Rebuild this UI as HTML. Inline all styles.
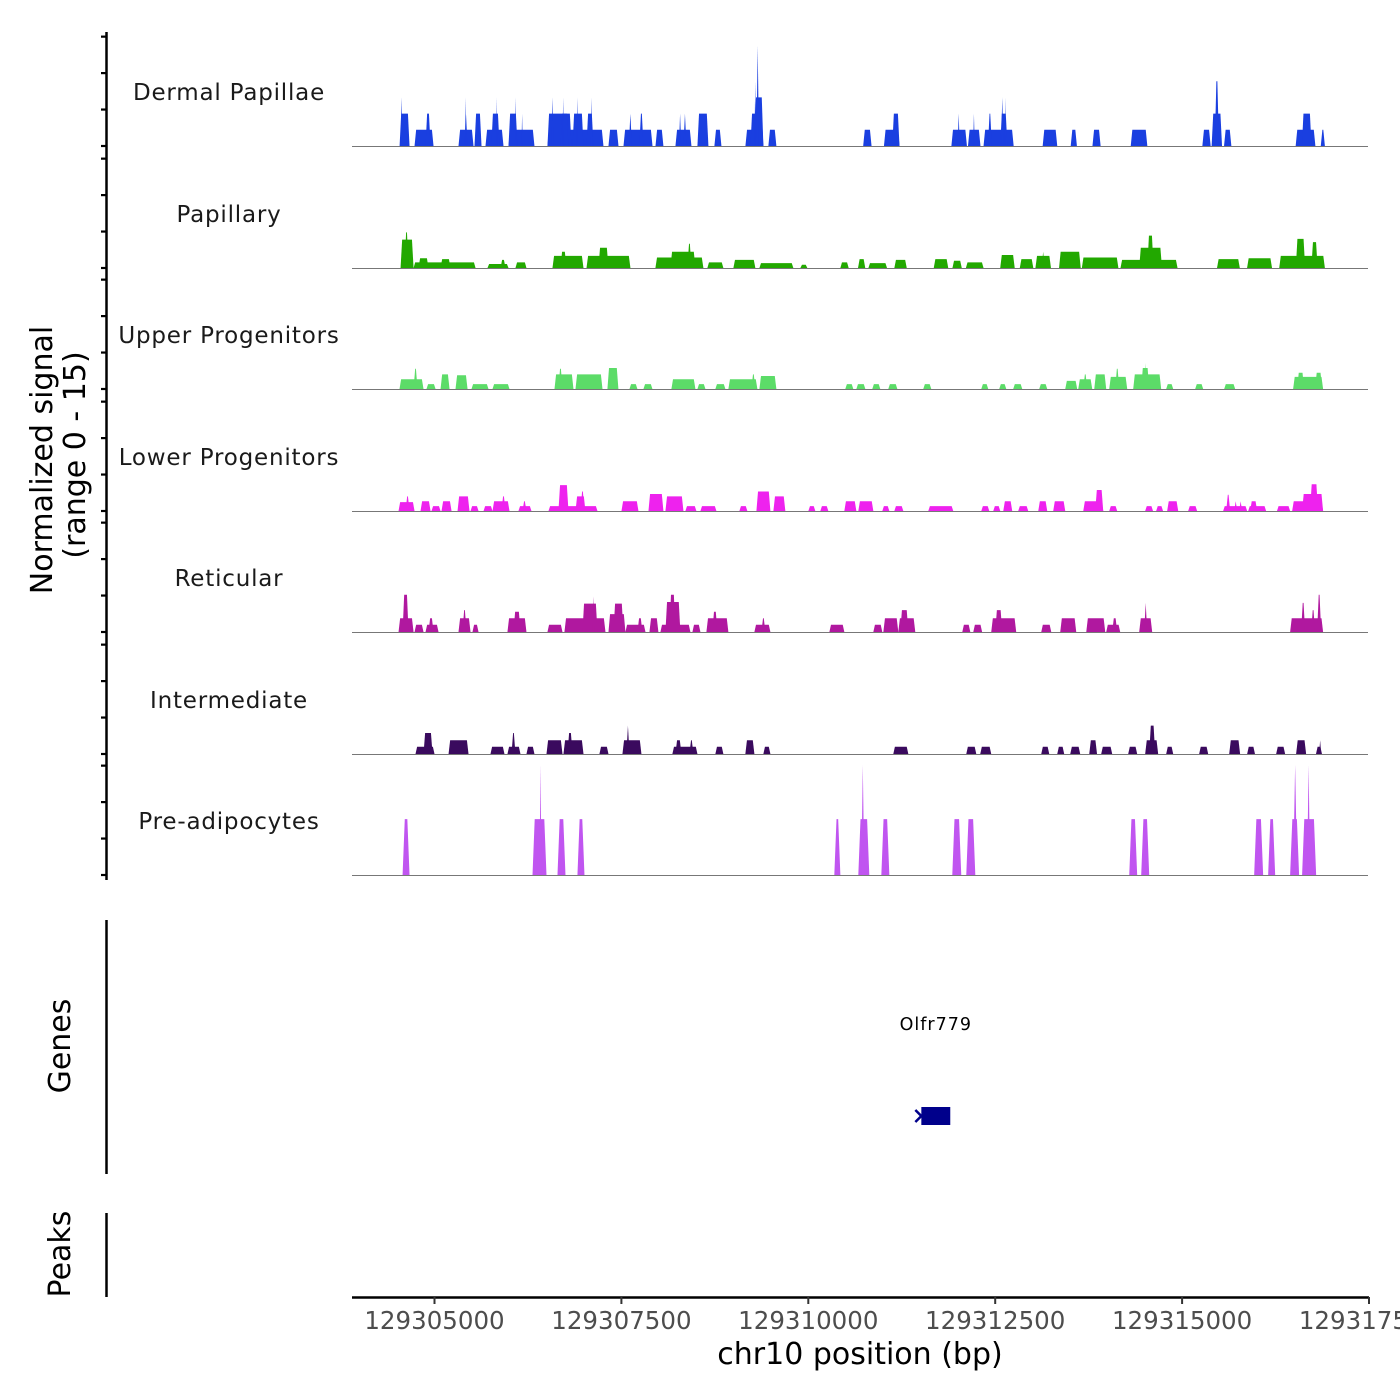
<!DOCTYPE html>
<html><head><meta charset="utf-8"><style>
html,body{margin:0;padding:0;background:#fff;}
svg{display:block;font-family:"DejaVu Sans","Liberation Sans",sans-serif;}
</style></head><body>
<svg id="chart" width="1400" height="1400" viewBox="0 0 1400 1400"></svg>
<script>
// Positions are bp offsets from chr10:129,300,000; values are normalized signal.
const chromBase = 129300000;
const trackNames = ["Dermal Papillae","Papillary","Upper Progenitors","Lower Progenitors","Reticular","Intermediate","Pre-adipocytes"];
const trackColors = ["#1a3fe0","#22a800","#5cdc68","#ee22ee","#b0189f","#3a0a5e","#c055f0"];
const xTicks = [129305000,129307500,129310000,129312500,129315000,129317500];
const xTickLabels = ["129305000","129307500","129310000","129312500","129315000","129317500"];
const yTickValues = [0,4.5,9,13.5];
const dermalPeaks = [[4533,4666,4],[4546,4573,6],[4733,4987,2],[4880,4947,4],[5321,5522,2],[5400,5442,4],[5408,5425,6],[5535,5629,4],[5682,5923,2],[5760,5870,4],[5825,5840,6],[5990,6337,2],[5990,6110,4],[6076,6094,6],[6164,6180,4],[6511,7260,2],[6511,6832,4],[6565,6592,6],[6685,6792,4],[6712,6730,6],[6846,6993,4],[6900,6920,6],[7033,7126,4],[7090,7110,6],[7327,7461,2],[7528,7916,2],[7600,7640,4],[7740,7795,4],[7956,8062,2],[8223,8437,2],[8270,8300,4],[8330,8370,4],[8517,8664,4],[8744,8838,2],[9159,9399,2],[9226,9399,4],[9279,9399,6],[9280,9300,8],[9306,9340,12.4],[9466,9573,2],[10734,10846,2],[11012,11220,2],[11123,11220,4],[11914,12122,2],[11998,12025,4],[12136,12303,2],[12205,12226,4],[12344,12747,2],[12403,12455,4],[12567,12663,4],[12579,12610,6],[12626,12641,6],[13135,13330,2],[13510,13593,2],[13801,13910,2],[14313,14535,2],[15271,15382,2],[15395,15534,4],[15437,15493,8],[15561,15659,2],[16519,16783,2],[16602,16731,4],[16855,16910,2]];
const papillaryPeaks = [[4546,4720,3.5],[4599,4653,4.4],[4720,5549,0.7],[4786,4920,1.2],[5081,5214,1.1],[5709,5990,0.5],[5883,5950,1.0],[6083,6230,0.7],[6578,6993,1.5],[6685,6765,2.0],[7033,7621,1.5],[7193,7327,2.5],[7955,8597,1.3],[8156,8490,2.0],[8383,8437,3.0],[8650,8864,0.7],[8998,9292,1.0],[9346,9800,0.6],[9894,9987,0.4],[10429,10540,0.7],[10665,10762,1.1],[10804,11053,0.6],[11151,11317,1.0],[11678,11872,1.1],[11928,12053,0.9],[12108,12344,0.7],[12567,12761,1.6],[12829,13010,1.1],[13038,13246,1.5],[13121,13162,2.0],[13354,13644,2.0],[13659,14148,1.3],[14176,14939,1.0],[14426,14731,2.5],[14535,14618,4.0],[15467,15772,1.1],[15869,16203,1.2],[16299,16910,1.5],[16521,16646,3.6],[16729,16813,3.2]];
const upperPeaks = [[4532,4853,1.2],[4720,4773,2.5],[4893,5014,0.6],[5081,5201,1.8],[5281,5442,1.7],[5495,5722,0.6],[5776,6003,0.6],[6605,6859,1.8],[6658,6712,2.5],[6886,7247,1.8],[7313,7460,2.6],[7608,7714,0.6],[7795,7915,0.6],[8169,8490,1.2],[8517,8624,0.6],[8757,8891,0.6],[8931,9319,1.2],[9239,9292,1.8],[9346,9573,1.6],[10495,10602,0.6],[10643,10763,0.6],[10856,10963,0.6],[11070,11191,0.6],[11538,11645,0.6],[12314,12407,0.6],[12554,12648,0.6],[12741,12862,0.6],[13089,13196,0.6],[13437,13597,1.0],[13611,13798,1.2],[13678,13731,1.8],[13825,13985,1.8],[14025,14266,1.5],[14106,14159,2.5],[14346,14720,1.8],[14453,14560,2.6],[14493,14520,3.2],[14787,14881,0.6],[15175,15282,0.6],[15563,15710,0.6],[16485,16886,1.5],[16539,16632,2.0],[16779,16873,2.0]];
const lowerPeaks = [[4519,4733,1.1],[4613,4666,1.8],[4813,4947,1.2],[4960,5081,0.6],[5094,5228,1.2],[5308,5468,1.8],[5482,5589,0.6],[5656,5776,0.6],[5776,6003,1.2],[5896,5950,1.8],[6123,6297,0.6],[6177,6230,1.2],[6525,7180,0.6],[6658,6792,3.2],[6886,7019,1.8],[6953,7006,2.4],[7501,7728,1.2],[7862,8062,2.1],[8089,8330,1.8],[8356,8503,0.6],[8557,8771,0.6],[9078,9185,0.6],[9306,9493,2.4],[9533,9693,1.8],[10001,10094,0.6],[10161,10268,0.6],[10482,10643,1.2],[10669,10870,1.2],[10990,11084,0.6],[11151,11271,0.6],[11605,11939,0.6],[12314,12421,0.6],[12474,12568,0.6],[12608,12728,1.2],[12808,12942,0.6],[13076,13196,1.2],[13276,13437,1.2],[13678,13945,1.2],[13838,13945,2.6],[14025,14132,0.6],[14506,14611,0.6],[14653,14745,0.6],[14800,14948,1.2],[15081,15201,0.6],[15549,15870,0.6],[15590,15643,2.0],[15697,15737,1.2],[15763,15803,1.2],[15884,16124,0.6],[15910,16004,1.2],[16269,16445,0.6],[16472,16886,1.2],[16605,16886,2.1],[16712,16818,3.3]];
const reticularPeaks = [[4519,4720,1.7],[4573,4653,4.6],[4733,4853,0.9],[4880,5054,0.9],[4920,4987,1.7],[5321,5482,1.7],[5375,5428,2.7],[5508,5589,0.9],[5976,6230,1.7],[6057,6150,2.5],[6511,6712,0.9],[6738,7287,1.7],[6979,7180,3.5],[7113,7140,4.4],[7327,7554,2.2],[7394,7527,3.5],[7554,7822,0.9],[7715,7781,1.7],[7875,7995,1.7],[8022,8423,0.9],[8089,8289,3.7],[8142,8223,4.6],[8450,8557,0.9],[8637,8931,1.7],[8717,8784,2.5],[9279,9493,0.9],[9373,9426,1.7],[10282,10482,0.9],[10870,10990,0.9],[11004,11204,1.7],[11204,11431,1.7],[11231,11338,2.7],[12060,12167,0.9],[12207,12325,0.9],[12447,12781,1.7],[12501,12594,2.7],[13116,13250,0.9],[13370,13584,1.7],[13718,13972,1.7],[13985,14172,0.9],[14065,14132,1.7],[14426,14600,1.7],[14493,14533,3.6],[16445,16886,1.7],[16592,16646,3.6],[16726,16779,2.7],[16806,16860,4.6]];
const intermediatePeaks = [[4746,5000,0.9],[4853,4974,2.6],[5188,5455,1.7],[5749,5936,0.9],[5976,6150,0.9],[6030,6083,2.6],[6230,6337,0.9],[6498,6712,1.7],[6725,6993,1.7],[6779,6846,2.6],[7206,7327,0.9],[7514,7768,1.7],[7567,7608,3.5],[8182,8517,0.9],[8223,8303,1.7],[8410,8463,1.7],[8757,8864,0.9],[9158,9279,1.7],[9399,9493,0.9],[11137,11338,0.9],[12113,12247,0.9],[12300,12447,0.9],[13116,13223,0.9],[13330,13423,0.9],[13504,13637,0.9],[13758,13862,1.7],[13918,14065,0.9],[14279,14399,0.9],[14506,14680,1.7],[14560,14640,3.5],[14787,14881,0.9],[15228,15349,0.9],[15630,15776,1.7],[15870,15975,0.9],[16258,16378,0.9],[16525,16659,1.7],[16791,16871,0.9],[16833,16860,1.7]];
const preadipocytePeaks = [[4573,4666,6.9],[6311,6498,6.9],[6404,6431,13.6],[6645,6752,6.9],[6912,7006,6.9],[10348,10429,6.9],[10669,10816,6.9],[10709,10749,13.6],[10977,11084,6.9],[11926,12046,6.9],[12113,12234,6.9],[14293,14399,6.9],[14453,14560,6.9],[15964,16084,6.9],[16151,16245,6.9],[16445,16565,6.9],[16485,16539,13.6],[16605,16793,6.9],[16672,16712,13.6]];
const trackPeaks = [dermalPeaks,papillaryPeaks,upperPeaks,lowerPeaks,reticularPeaks,intermediatePeaks,preadipocytePeaks];
const geneName = "Olfr779";
const geneStart = 129311512, geneEnd = 129311899;

const NS="http://www.w3.org/2000/svg";
const svg=document.getElementById('chart');
function mk(tag,attrs,parent){const e=document.createElementNS(NS,tag);for(const k in attrs)e.setAttribute(k,attrs[k]);(parent||svg).appendChild(e);return e;}
const X0=352,X1=1368;
function xScale(bp){return 434.5+(bp-129305000)*(1369-434.5)/12500;}
const baselines=[146,268,389,511,632,754,875];
const pxPerUnit=8.1;
function yScale(i,v){return baselines[i]-v*pxPerUnit;}

for(let i=0;i<7;i++){
  const g=mk('g',{});
  
  
  const taper=i===6?2.2:1.6;
  trackPeaks[i].forEach(p=>{
    const xa=xScale(chromBase+p[0]),xb=xScale(chromBase+p[1]);
    const t=Math.min(taper,(xb-xa)/2);
    const y0=baselines[i],y1=yScale(i,p[2]);
    const poly=mk('polygon',{points:`${xa},${y0} ${xa+t},${y1} ${xb-t},${y1} ${xb},${y0}`,fill:trackColors[i]},g);
    
    
  });
  const bl=mk('line',{x1:X0,x2:X1,y1:baselines[i]+0.5,y2:baselines[i]+0.5,stroke:'#777','stroke-width':1},g);
  
  
  const lab=mk('text',{x:229,y:baselines[i]-46,'text-anchor':'middle','font-size':23,fill:'#1a1a1a','letter-spacing':'0.8'},g);
  lab.textContent=trackNames[i];
  
  
  yTickValues.forEach(v=>{
    const y=yScale(i,v);
    const tk=mk('line',{x1:101,x2:106,y1:y,y2:y,stroke:'#000','stroke-width':2.2});
    
    
  });
}
const ya=mk('line',{x1:106.5,x2:106.5,y1:32,y2:880,stroke:'#000','stroke-width':2.5});


const yt=mk('text',{transform:'translate(52,460) rotate(-90)','text-anchor':'middle','font-size':30,fill:'#000'});


yt.textContent='Normalized signal';
const yt2=mk('text',{transform:'translate(85,455) rotate(-90)','text-anchor':'middle','font-size':30,fill:'#000'});


yt2.textContent='(range 0 - 15)';

const ga=mk('line',{x1:106.5,x2:106.5,y1:920,y2:1174,stroke:'#000','stroke-width':2.5});


const gt=mk('text',{transform:'translate(70,1046) rotate(-90)','text-anchor':'middle','font-size':30,fill:'#000'});


gt.textContent='Genes';
const gx0=xScale(geneStart),gx1=xScale(geneEnd);
const gl=mk('text',{x:(gx0+gx1)/2,y:1030,'text-anchor':'middle','font-size':17.5,fill:'#000','letter-spacing':'1'});


gl.textContent=geneName;
const gb=mk('rect',{x:gx0,y:1107,width:gx1-gx0,height:18,fill:'#00008b'});


const ar=mk('path',{d:`M${gx0-6},${1110} L${gx0},${1116} L${gx0-6},${1122}`,stroke:'#00008b','stroke-width':2.5,fill:'none'});



const pa=mk('line',{x1:106.5,x2:106.5,y1:1213,y2:1297,stroke:'#000','stroke-width':2.5});


const pt=mk('text',{transform:'translate(70,1254) rotate(-90)','text-anchor':'middle','font-size':30,fill:'#000'});


pt.textContent='Peaks';

const xa=mk('line',{x1:X0,x2:X1+1,y1:1297.5,y2:1297.5,stroke:'#000','stroke-width':2.5});


xTicks.forEach((t,k)=>{
  const x=xScale(t);
  const tl=mk('line',{x1:x,x2:x,y1:1297,y2:1304,stroke:'#333','stroke-width':2});
  
  
  const tx=mk('text',{x:x,y:1329,'text-anchor':'middle','font-size':24.5,fill:'#4d4d4d'});
  
  
  tx.textContent=xTickLabels[k];
});
const xt=mk('text',{x:860,y:1364,'text-anchor':'middle','font-size':30,fill:'#000'});


xt.textContent='chr10 position (bp)';
</script>
</body></html>
